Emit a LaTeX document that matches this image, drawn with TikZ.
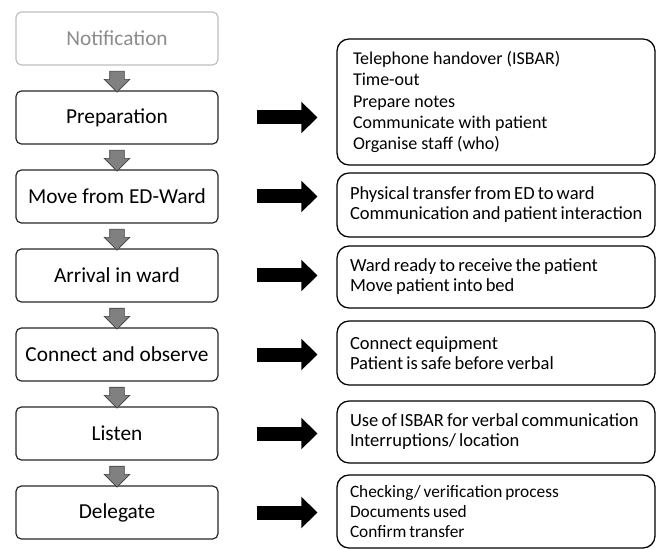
\documentclass[tikz,border=0pt]{standalone}
\usepackage{fontspec}
\setmainfont{Carlito}
\usetikzlibrary{arrows.meta,shapes.arrows}
\begin{document}
\begin{tikzpicture}[x=0.75pt,y=-0.75pt,
  stepbox/.style={draw=black!85,line width=0.9pt,rounded corners=4pt,
    minimum width=151.5pt,minimum height=39.75pt,inner sep=0pt,
    font=\fontsize{16}{19}\selectfont},
  fadedbox/.style={stepbox,draw=black!25,text=black!45},
  infobox/.style={draw=black,line width=0.95pt,rounded corners=9pt,
    minimum width=238.5pt,inner xsep=9.75pt,inner ysep=0pt,
    text width=219pt,align=left,font=\fontsize{13.9}{15}\selectfont,
    execute at begin node={\spaceskip=0.17em plus 0.05em minus 0.03em\relax}},
  downarr/.style={single arrow,rotate=-90,draw=black!75,line width=0.5pt,fill=black!50,
    minimum height=15.75pt,inner xsep=0pt,inner ysep=5.25pt,minimum width=18.75pt,
    single arrow head extend=4.1pt,single arrow tip angle=90},
  bigarr/.style={line width=10.5pt,-{Triangle[width=23pt,length=12pt]},
    shorten <=28.5pt,shorten >=14.25pt}
]
\useasboundingbox (0,0) rectangle (661,549);

\node[fadedbox] (n0) at (117,38.5) {Notification};
\node[stepbox] (n1) at (117,117.5) {Preparation};
\node[stepbox] (n2) at (117,196.5) {Move from ED-Ward};
\node[stepbox] (n3) at (117,275.5) {Arrival in ward};
\node[stepbox] (n4) at (117,354.5) {Connect and observe};
\node[stepbox] (n5) at (117,433.5) {Listen};
\node[stepbox] (n6) at (117,512.5) {Delegate};

\node[infobox,minimum height=94.5pt,inner xsep=12pt,text width=214.5pt,
  font=\fontsize{13.5}{16}\selectfont,
  execute at begin node={\spaceskip=0pt\relax}] (i1) at (496,102)
  {Telephone handover (ISBAR)\\Time-out\\Prepare notes\\Communicate with patient\\Organise staff (who)};
\node[infobox,minimum height=48pt] (i2) at (496,205)
  {\mbox{Physical transfer from ED to ward}\\\mbox{Communication and patient interaction}};
\node[infobox,minimum height=46.5pt] (i3) at (496,277)
  {\mbox{Ward ready to receive the patient}\\Move patient into bed};
\node[infobox,minimum height=48pt] (i4) at (496,353)
  {Connect equipment\\Patient is safe before verbal};
\node[infobox,minimum height=46.5pt] (i5) at (496,432)
  {\mbox{Use of ISBAR for verbal communication}\\Interruptions/ location};
\node[infobox,minimum height=54.75pt,font=\fontsize{13}{15}\selectfont] (i6) at (496,511.5)
  {Checking/ verification process\\Documents used\\Confirm transfer};

\foreach \a/\b in {n0/n1,n1/n2,n2/n3,n3/n4,n4/n5,n5/n6}
  \path (\a.south) -- (\b.north) node[midway,downarr] {};

\foreach \a/\b in {n1/i1,n2/i2,n3/i3,n4/i4,n5/i5,n6/i6}
  \draw[bigarr] (\a.east) -- (\a.east -| \b.west);
\end{tikzpicture}
\end{document}
